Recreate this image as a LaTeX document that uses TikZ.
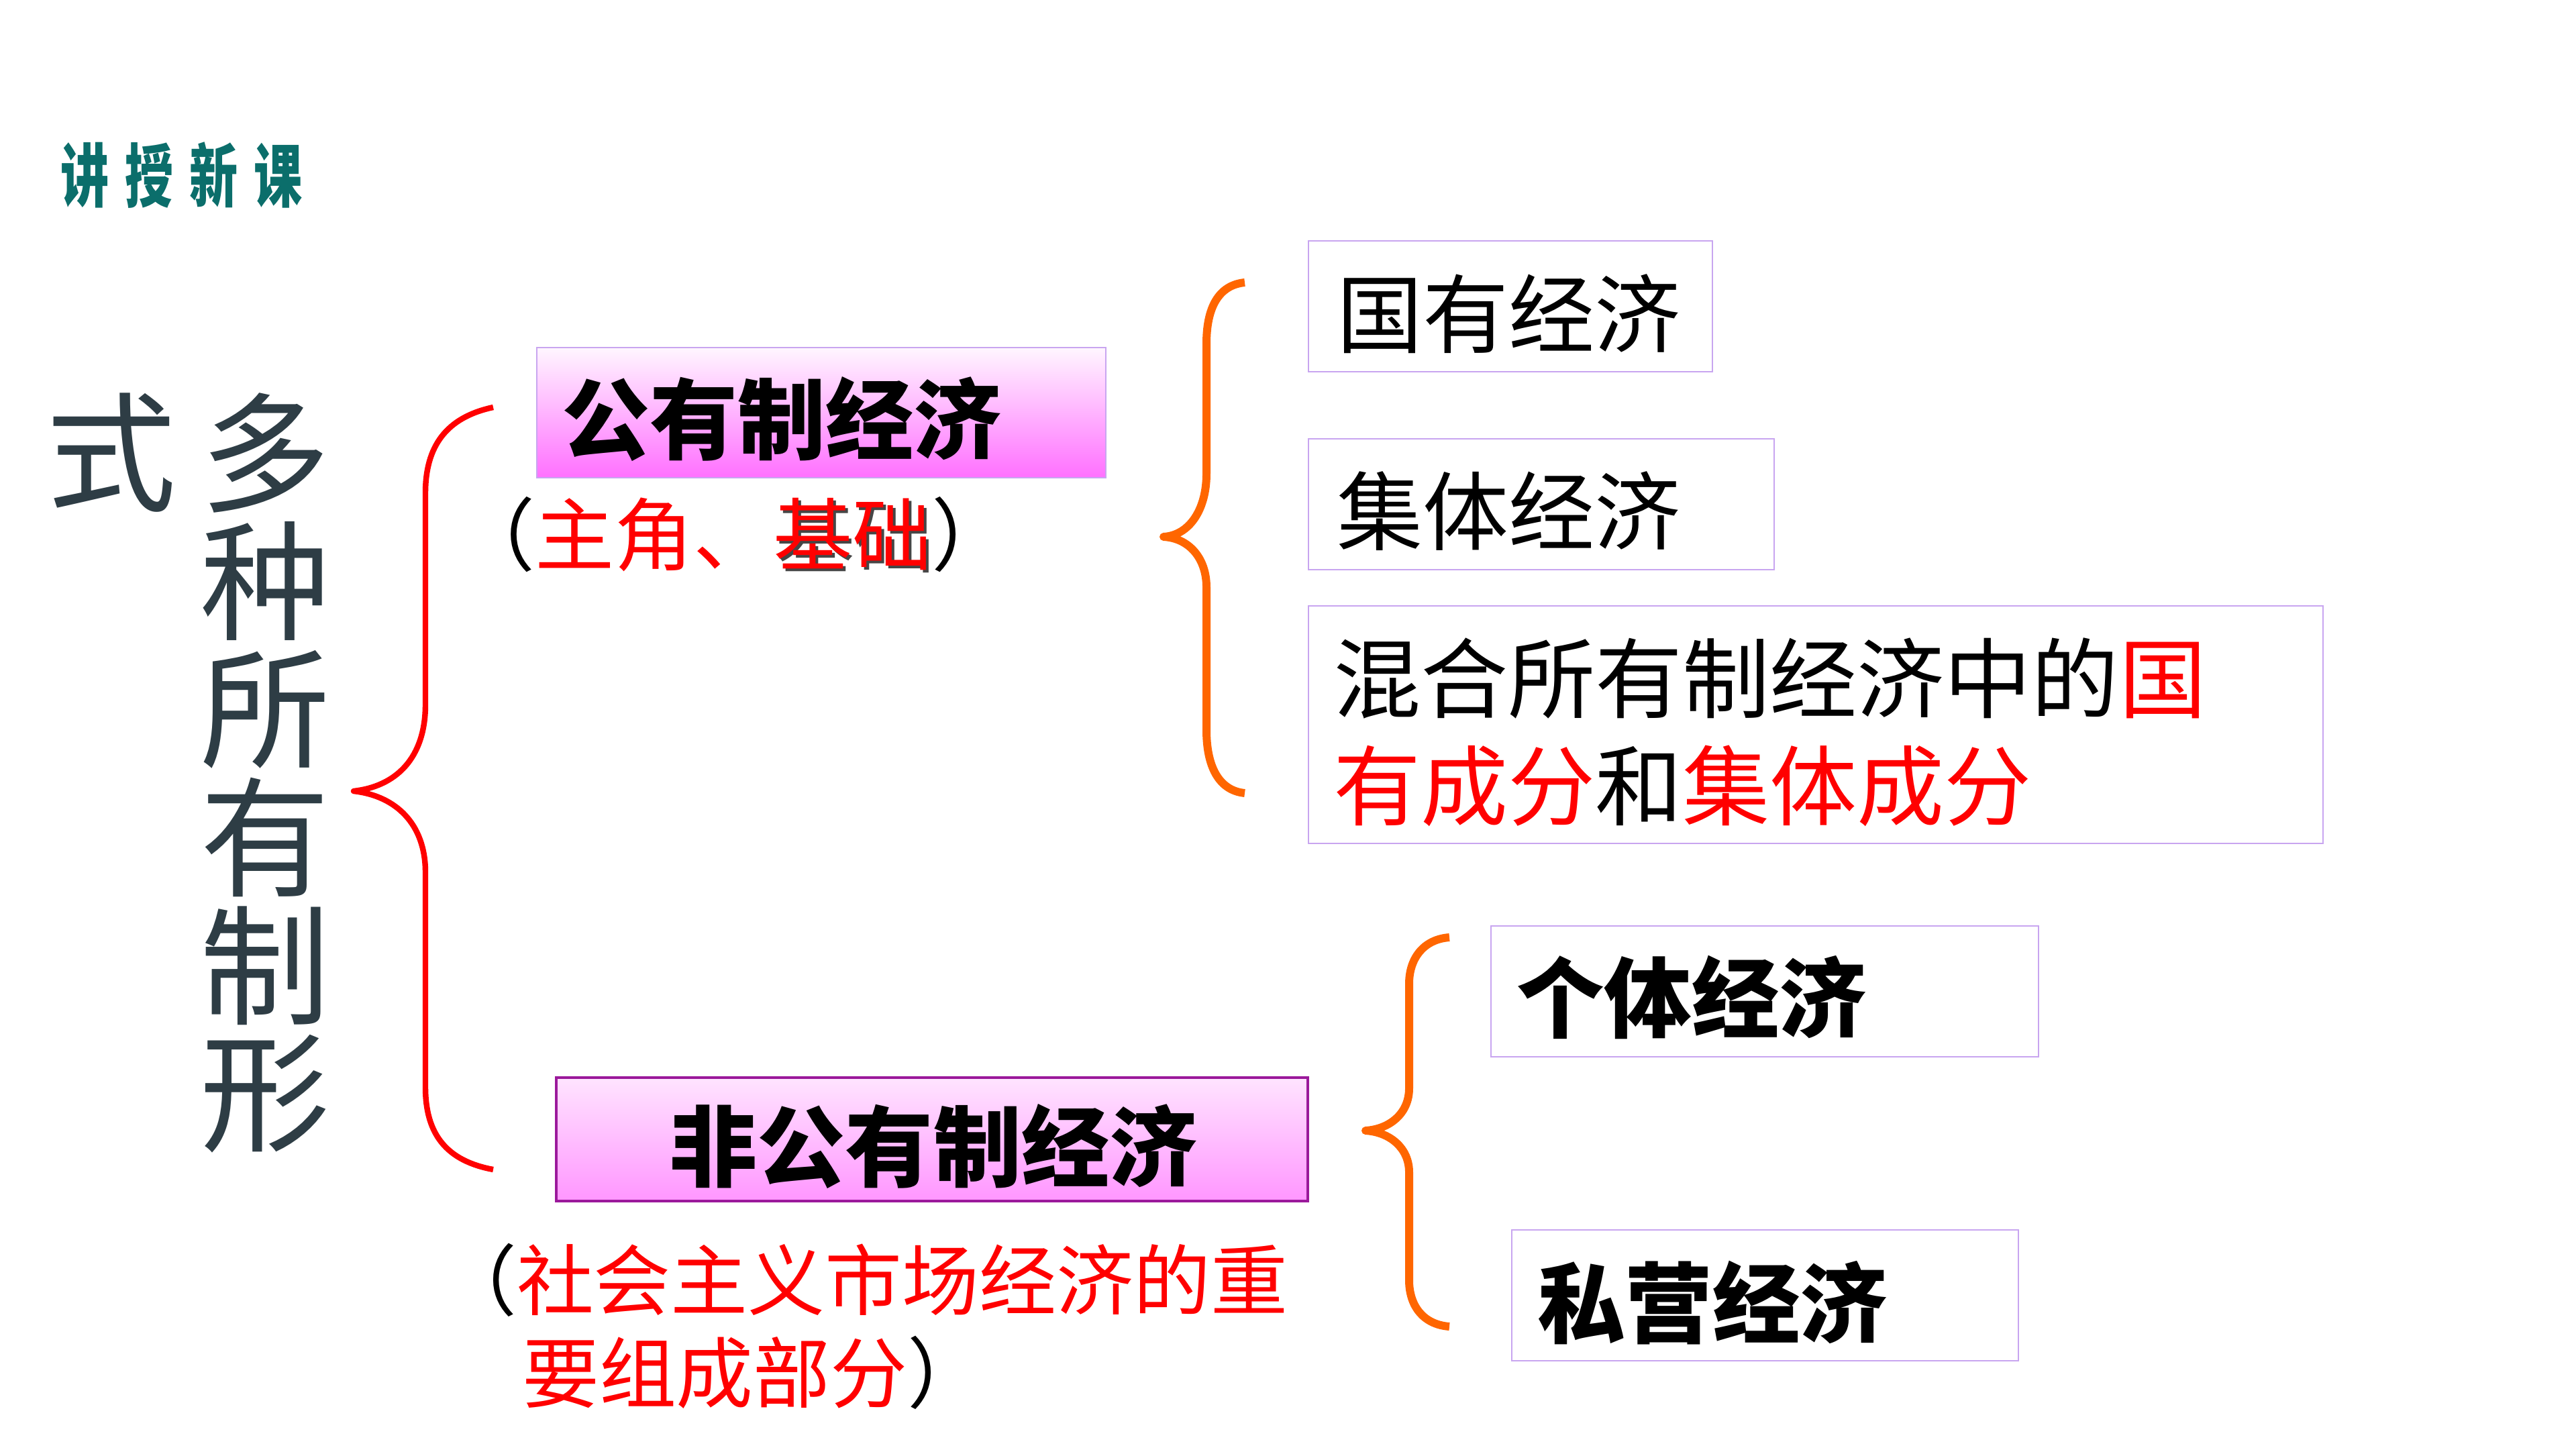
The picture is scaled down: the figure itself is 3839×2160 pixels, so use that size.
\documentclass[tikz,border=0pt]{standalone}
\usepackage{fontspec}
\usepackage{graphicx}
\setmainfont{Noto Sans CJK SC}
\usetikzlibrary{fit}
\definecolor{teal1}{RGB}{11,110,107}
\definecolor{slate}{RGB}{46,61,69}
\definecolor{lav}{RGB}{200,165,240}
\definecolor{dpurple}{RGB}{155,25,155}
\definecolor{orng}{RGB}{255,102,0}
\definecolor{rd}{RGB}{255,0,0}
\definecolor{shd}{RGB}{70,70,70}
\definecolor{pinktop}{RGB}{255,246,255}
\definecolor{pinkbot}{RGB}{255,112,255}
\definecolor{pinktopb}{RGB}{255,228,255}
\definecolor{pinkmidb}{RGB}{255,242,255}
\definecolor{pinkbotb}{RGB}{255,150,255}
\newcommand\myfs[1]{\fontsize{#1}{#1}\selectfont}
\begin{document}
\begin{tikzpicture}[x=0.01cm,y=-0.01cm,
  lbl/.style={inner sep=0pt, outer sep=0pt},
  framebox/.style={draw=lav, line width=0.8pt, inner sep=0pt, outer sep=0pt, rectangle},
  redbrace/.style={draw=rd, line width=2.4pt, line join=round},
  orangebrace/.style={draw=orng, line width=3.4pt, line join=round}]
\useasboundingbox[fill=white] (0,0) rectangle (3839,2160);

% title
\node[lbl, text=teal1, font=\myfs{29.3pt}\bfseries] (title) at (271,261)
  {\scalebox{0.7}[1]{讲\hspace{9.7pt}授\hspace{9.7pt}新\hspace{9.7pt}课}};

% vertical text
\node[lbl, text=slate, font=\myfs{55pt}] (vshi) at (166,675) {式};
\foreach \c [count=\i] in {多,种,所,有,制,形}{
  \node[lbl, text=slate, font=\myfs{55pt}] (v\i) at (395,{675+(\i-1)*191}) {\c};
}

% boxes
\node[framebox, top color=pinktop, bottom color=pinkbot, fit={(800,518) (1648,712)}] (gyzb) {};
\node[draw=dpurple, line width=1.1pt, inner sep=0pt, outer sep=0pt, rectangle,
      top color=pinktopb, middle color=pinkmidb, bottom color=pinkbotb,
      fit={(829,1606) (1949,1790)}] (fgyzb) {};
\node[framebox, fit={(1950,359) (2552,554)}] (gyb) {};
\node[framebox, fit={(1950,654) (2644,849)}] (jtb) {};
\node[framebox, fit={(1950,903) (3462,1257)}] (hhb) {};
\node[framebox, fit={(2222,1380) (3038,1575)}] (gtb) {};
\node[framebox, fit={(2253,1833) (3008,2028)}] (syb) {};

% box texts
\node[lbl, font=\myfs{37.3pt}\bfseries] (gyz) at (1165,625) {公有制经济};
\node[lbl, font=\myfs{37.3pt}\bfseries] (fgyz) at (1391,1708) {非公有制经济};
\node[lbl, font=\myfs{36.4pt}] (gy) at (2248,468) {国有经济};
\node[lbl, font=\myfs{36.4pt}] (jt) at (2248,762) {集体经济};
\node[lbl, font=\myfs{37pt}, anchor=west] (hh1) at (1987,1011)
  {混合所有制经济中的\textcolor{rd}{国}};
\node[lbl, font=\myfs{37pt}, anchor=west] (hh2) at (1987,1171)
  {\textcolor{rd}{有成分}和\textcolor{rd}{集体成分}};
\node[lbl, font=\myfs{37.1pt}\bfseries] (gt) at (2521,1486) {个体经济};
\node[lbl, font=\myfs{37.1pt}\bfseries] (sy) at (2552,1941) {私营经济};

% notes
\node[lbl, font=\myfs{33.6pt}] (note1) at (1093,797)
  {（\textcolor{rd}{主角、}\makebox[0pt][l]{\hspace{1.3pt}\raisebox{-1.3pt}{\textcolor{shd}{基础}}}\textcolor{rd}{基础}）};
\node[lbl, font=\myfs{32.7pt}, anchor=west] (note2a) at (655,1908)
  {（\textcolor{rd}{社会主义市场经济的重}};
\node[lbl, font=\myfs{32.7pt}, anchor=west] (note2b) at (778,2046)
  {\textcolor{rd}{要组成部分}）};

% red brace
\coordinate (rbt) at (735,607);
\coordinate (rbm) at (527,1179);
\coordinate (rbb) at (735,1743);
\draw[redbrace] (rbt) .. controls (665,622) and (634,665) .. (634,735)
  -- (634,1050) .. controls (634,1130) and (590,1172) .. (rbm)
  .. controls (590,1186) and (634,1228) .. (634,1300)
  -- (634,1620) .. controls (634,1690) and (665,1730) .. (rbb);

% orange brace 1
\coordinate (ob1t) at (1855,421);
\coordinate (ob1m) at (1734,800);
\coordinate (ob1b) at (1855,1182);
\draw[orangebrace] (ob1t) .. controls (1815,425) and (1798,460) .. (1798,512)
  -- (1798,706) .. controls (1798,760) and (1772,798) .. (ob1m)
  .. controls (1772,802) and (1798,832) .. (1798,875)
  -- (1798,1088) .. controls (1798,1140) and (1815,1178) .. (ob1b);

% orange brace 2
\coordinate (ob2t) at (2160,1397);
\coordinate (ob2m) at (2035,1685);
\coordinate (ob2b) at (2160,1977);
\draw[orangebrace] (ob2t) .. controls (2120,1400) and (2100,1430) .. (2100,1466)
  -- (2100,1622) .. controls (2100,1660) and (2070,1683) .. (ob2m)
  .. controls (2070,1687) and (2100,1710) .. (2100,1747)
  -- (2100,1908) .. controls (2100,1945) and (2120,1974) .. (ob2b);
\end{tikzpicture}
\end{document}
